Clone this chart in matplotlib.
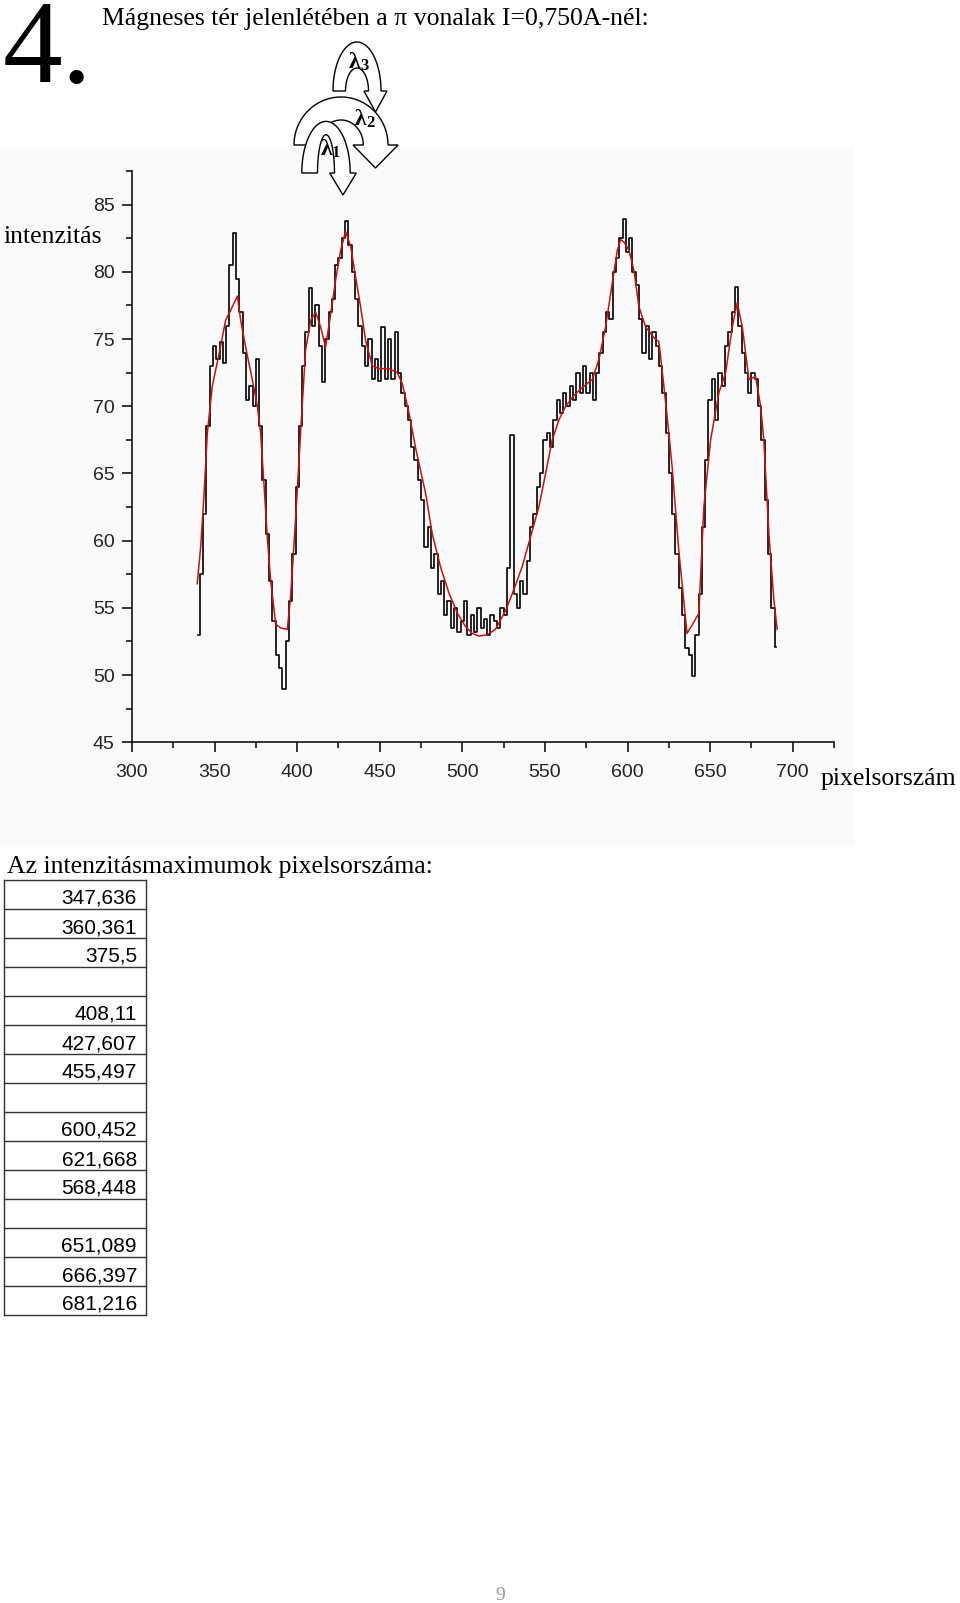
import numpy as np
import matplotlib
matplotlib.use("Agg")
import matplotlib.pyplot as plt
from matplotlib.path import Path
from matplotlib.patches import PathPatch, Rectangle

SERIF = ["Liberation Serif", "DejaVu Serif"]
SANS = ["Liberation Sans", "DejaVu Sans"]

# measured intensity, one value every 2 pixels starting at pixel 340
black_y = [
    53.0, 57.5, 62.0, 68.5, 73.0,
    74.5, 73.5, 74.8, 73.2, 76.0,
    80.5, 82.9, 79.5, 77.0, 74.0,
    70.5, 71.5, 70.0, 73.5, 68.5,
    64.5, 60.5, 57.0, 54.0, 51.5,
    50.5, 49.0, 52.5, 55.5, 59.0,
    64.0, 68.5, 73.0, 75.5, 78.8,
    76.0, 77.5, 74.5, 71.8, 75.0,
    77.0, 78.0, 80.5, 81.0, 82.5,
    83.8, 82.0, 80.0, 78.0, 76.0,
    74.5, 73.0, 75.0, 72.0, 73.5,
    71.9, 75.9, 72.0, 75.0, 72.0,
    75.5, 72.5, 71.0, 70.0, 69.0,
    67.0, 66.0, 64.5, 63.0, 59.5,
    61.0, 58.0, 59.0, 56.0, 57.0,
    54.5, 55.5, 53.5, 55.0, 53.2,
    54.0, 55.5, 53.0, 54.5, 53.2,
    55.0, 53.5, 54.2, 53.0, 54.5,
    54.0, 53.5, 55.0, 54.5, 58.0,
    67.9, 56.0, 55.0, 57.0, 56.0,
    58.5, 61.0, 62.0, 64.0, 65.0,
    67.5, 68.0, 67.0, 69.0, 70.5,
    69.5, 71.0, 70.0, 71.5, 70.5,
    72.5, 71.0, 73.0, 71.0, 72.5,
    70.5, 72.5, 74.0, 75.5, 77.0,
    76.5, 80.0, 81.0, 82.5, 83.9,
    81.5, 82.5, 80.0, 79.0, 76.5,
    74.0, 76.0, 73.5, 75.5, 74.5,
    73.0, 71.0, 68.0, 65.0, 62.0,
    59.0, 56.5, 54.5, 52.0, 51.5,
    49.9, 53.0, 56.0, 61.0, 66.0,
    70.5, 72.0, 69.0, 72.5, 71.5,
    74.5, 75.5, 77.0, 78.9, 76.0,
    74.0, 72.5, 71.0, 72.5, 72.0,
    70.0, 67.5, 63.0, 59.0, 55.0,
    52.1,
]
black_x = np.arange(340, 340 + 2 * len(black_y), 2)

# fitted curve (red)
red_x = [339.5, 341.6, 343.6, 345.6, 348.6, 352.7, 356.7, 360.7, 363.8, 365.8,
         368.8, 372.8, 375.9, 377.9, 379.9, 381.9, 383.9, 387.0, 390.0, 394.0,
         396.0, 398.0, 400.1, 402.1, 405.1, 408.2, 411.2, 414.2, 417.2, 420.3,
         423.3, 426.3, 429.3, 432.4, 435.4, 438.4, 441.4, 445.5, 449.5, 455.6,
         460.6, 463.6, 467.7, 471.7, 477.8, 481.8, 486.9, 491.9, 497.0, 502.0,
         506.0, 510.0, 515.0, 520.0, 526.2, 531.3, 536.3, 541.3, 546.3, 550.4,
         554.4, 558.5, 562.5, 567.5, 572.6, 578.7, 582.7, 586.7, 590.8, 593.8,
         595.8, 598.0, 600.9, 603.9, 606.9, 611.0, 616.0, 619.0, 622.0, 625.0,
         627.0, 631.0, 634.0, 636.0, 639.5, 643.2, 646.2, 650.3, 655.3, 659.4,
         663.4, 666.4, 669.5, 673.5, 677.5, 680.6, 682.5, 685.6, 688.6, 690.6]
red_y = [56.8, 59.6, 63.4, 68.0, 71.5, 73.9, 76.4, 77.4, 78.2, 76.4,
         74.4, 72.0, 70.0, 68.0, 64.2, 60.3, 57.1, 53.8, 53.5, 53.4,
         55.8, 59.6, 63.8, 68.1, 74.2, 76.4, 77.0, 75.9, 74.4, 76.9,
         79.4, 81.6, 83.0, 81.9, 79.6, 77.4, 74.9, 73.0, 72.8, 72.8,
         72.5, 71.7, 69.5, 66.9, 63.5, 60.5, 58.0, 56.1, 54.6, 53.6,
         53.1, 52.9, 53.0, 53.4, 54.8, 56.4, 58.1, 60.3, 62.5, 65.0,
         67.5, 69.0, 70.0, 70.8, 71.4, 72.0, 73.5, 75.9, 79.2, 81.6,
         82.4, 82.2, 81.6, 80.1, 77.4, 75.9, 75.1, 74.8, 71.5, 68.0,
         65.5, 59.3, 55.6, 53.1, 53.8, 54.6, 62.5, 67.5, 71.0, 72.5,
         75.9, 77.7, 75.9, 72.0, 72.2, 70.0, 67.5, 60.5, 55.6, 53.4]

x_major = [300, 350, 400, 450, 500, 550, 600, 650, 700]
y_major = [45, 50, 55, 60, 65, 70, 75, 80, 85]

table_values = ["347,636", "360,361", "375,5", "",
                "408,11", "427,607", "455,497", "",
                "600,452", "621,668", "568,448", "",
                "651,089", "666,397", "681,216"]

W, H = 960, 1603
fig = plt.figure(figsize=(W / 100, H / 100), dpi=100)

# page layer in pixel coordinates (y down)
page = fig.add_axes([0, 0, 1, 1])
page.set_xlim(0, W)
page.set_ylim(H, 0)
page.axis("off")

# faint grey of the pasted chart image
page.add_patch(Rectangle((0, 148), 854, 697, facecolor="#fafafa", edgecolor="none", zorder=0))


def uturn(cx, yb, a, b, ai, bi, hx, hw, tip):
    th = np.linspace(np.pi, 0, 80)
    outer = np.c_[cx + a * np.cos(th), yb - b * np.sin(th)]
    inner = np.c_[cx + ai * np.cos(th[::-1]), yb - bi * np.sin(th[::-1])]
    head = np.array([[hx + hw, yb], [hx, tip], [hx - hw, yb]])
    verts = np.vstack([outer, head, inner, outer[:1]])
    codes = [Path.MOVETO] + [Path.LINETO] * (len(verts) - 2) + [Path.CLOSEPOLY]
    page.add_patch(PathPatch(Path(verts, codes), facecolor="white",
                             edgecolor="black", lw=1.0, zorder=3))


uturn(357, 91, 24, 49, 11.5, 23, 375.5, 11.5, 112)
uturn(341, 145, 47, 48, 22.3, 25, 375.5, 22.5, 168)
uturn(326, 173, 24.2, 51.6, 8.5, 38.3, 343, 13.3, 195)

for lx, ly, sub in [(349, 68, "3"), (355, 125, "2"), (321, 155, "1")]:
    page.text(lx, ly, "λ", family=SERIF, fontsize=17, fontweight="bold",
              ha="left", va="baseline", zorder=4)
    page.text(lx + 11, ly + 2, sub, family=SERIF, fontsize=12, fontweight="bold",
              ha="left", va="baseline", zorder=4)

page.text(3, 82, "4.", family=SERIF, fontsize=86, ha="left", va="baseline")
page.text(102, 25, "Mágneses tér jelenlétében a π vonalak I=0,750A-nél:",
          family=SERIF, fontsize=18.5, ha="left", va="baseline")
page.text(3, 243, "intenzitás", family=SERIF, fontsize=18.5, ha="left", va="baseline")
page.text(821, 785, "pixelsorszám", family=SERIF, fontsize=18.5, ha="left", va="baseline")
page.text(7, 873, "Az intenzitásmaximumok pixelsorszáma:", family=SERIF,
          fontsize=18.5, ha="left", va="baseline")

# table of maxima
row_h = 29
top = 880
n = len(table_values)
for i in range(n + 1):
    page.plot([3.5, 145.5], [top + i * row_h] * 2, color="#333333", lw=1.0)
for xv in [3.5, 145.5]:
    page.plot([xv, xv], [top, top + n * row_h], color="#333333", lw=1.0)
for i, v in enumerate(table_values):
    page.text(137, top + i * row_h + 24, v, family=SANS, fontsize=15,
              ha="right", va="baseline")

page.text(500, 1600, "9", family=SERIF, fontsize=14, color="#999999",
          ha="center", va="baseline")

# chart
ax = fig.add_axes([132 / W, 1 - 742.3 / H, 702 / W, 571.2 / H])
ax.patch.set_alpha(0)
ax.plot(black_x, black_y, color="black", lw=1.2, drawstyle="steps-mid")
ax.plot(red_x, red_y, color="#cc1111", lw=1.1)
ax.set_xlim(300, 725)
ax.set_ylim(45, 87.5)
for s in ["top", "right"]:
    ax.spines[s].set_visible(False)
for s in ["left", "bottom"]:
    ax.spines[s].set_linewidth(1.1)
ax.set_xticks(x_major)
ax.set_xticks([v + 25 for v in x_major], minor=True)
ax.set_yticks(y_major)
ax.set_yticks([v + 2.5 for v in y_major], minor=True)
ax.tick_params(which="major", direction="out", length=7.5, width=1.1)
ax.tick_params(which="minor", direction="out", length=4.5, width=1.1)
ax.tick_params(axis="x", pad=8)
ax.tick_params(axis="y", pad=5)
for lab in ax.get_xticklabels() + ax.get_yticklabels():
    lab.set_family(SANS)
    lab.set_fontsize(14)
    lab.set_color("#222222")

fig.savefig("out.png", dpi=100)
